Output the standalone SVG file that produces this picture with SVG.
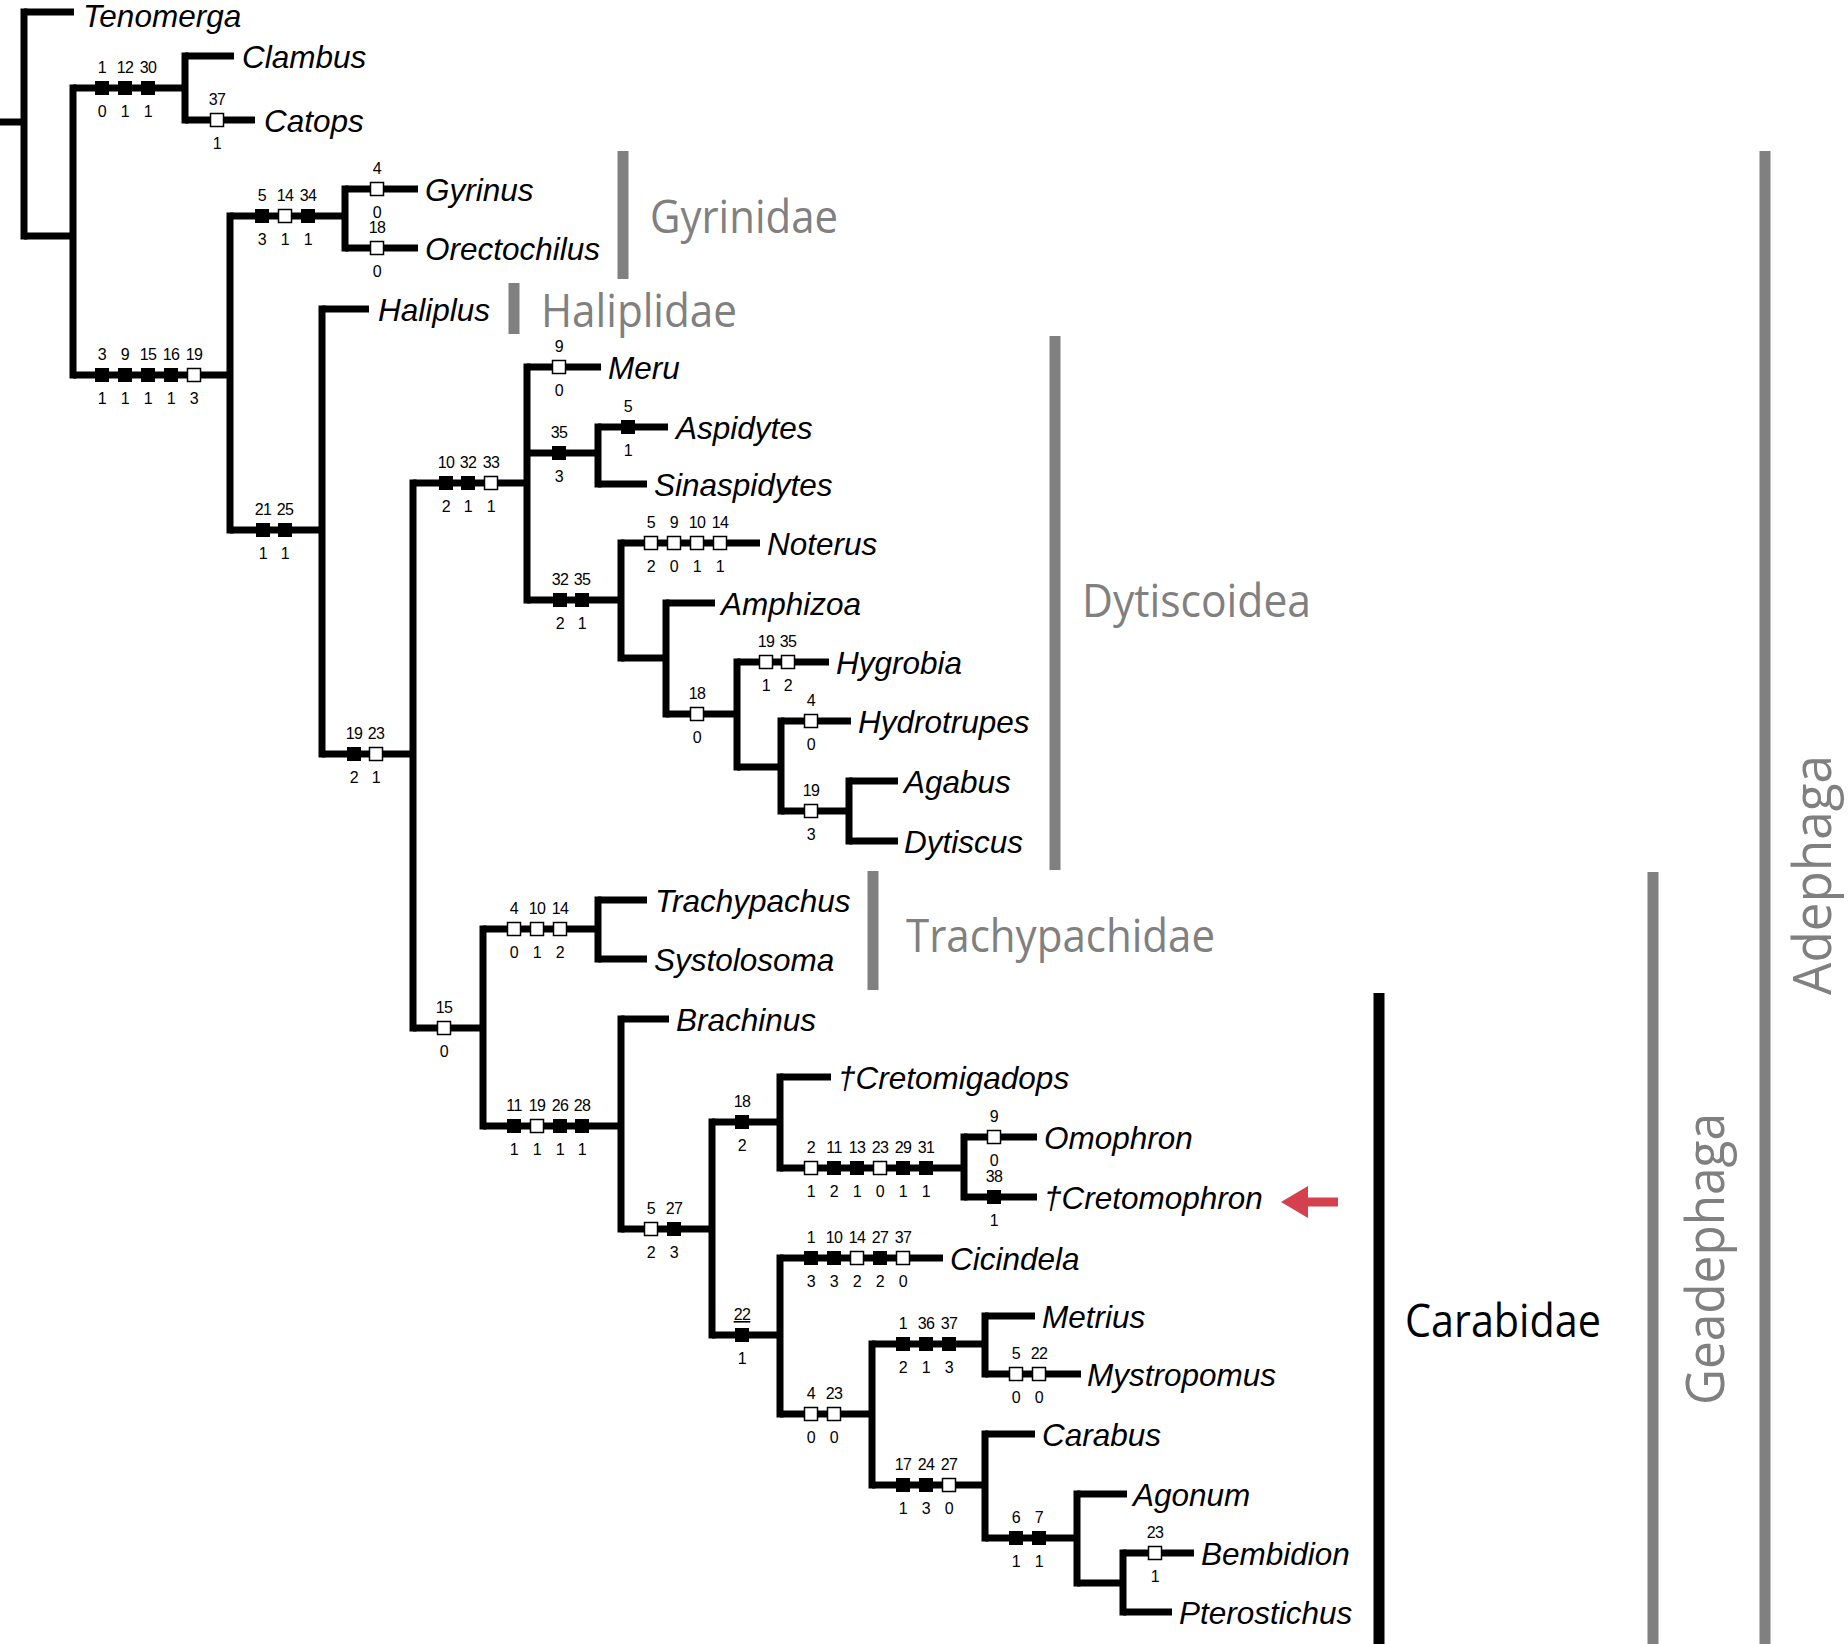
<svg xmlns="http://www.w3.org/2000/svg" width="1848" height="1644" viewBox="0 0 1848 1644">
<style>
.h{stroke:#000;stroke-width:7;fill:none;stroke-linecap:butt}
.v{stroke:#000;stroke-width:7;fill:none;stroke-linecap:square}
.tx{font-family:"Liberation Sans",Arial,sans-serif;font-style:italic;font-size:31.5px;fill:#000}
.cl{font-family:"Liberation Sans",Arial,sans-serif;font-size:16px;text-anchor:middle;letter-spacing:-0.6px;fill:#000}
.gl{font-family:"Open Sans","Liberation Sans",sans-serif;font-size:46px;fill:#808080}
.gv{font-family:"Open Sans","Liberation Sans",sans-serif;font-size:53px;fill:#808080;text-anchor:middle}
.bar{fill:#808080}
</style>
<defs>
<rect id="bf" x="-7" y="-7" width="14" height="14" fill="#000"/>
<rect id="bo" x="-6.5" y="-6.5" width="13" height="13" fill="#fff" stroke="#000" stroke-width="1.5"/>
</defs>
<rect width="1848" height="1644" fill="#fff"/>
<g id="connectors">
<path class="h" d="M0 122H24M24 12H74M24 236H73M73 88H185M185 56H234M185 120H255M73 375H230M230 216H345M345 189H418M345 248H418M230 530H322M322 309H369M322 754H413M413 483H527M527 367H601M527 453H598M598 427H668M598 484H647M527 600H621M621 543H760M621 658H666M666 603H715M666 714H737M737 662H829M737 767H781M781 721H851M781 811H849M849 781H898M849 841H898M413 1028H483M483 929H598M598 900H647M598 959H647M483 1126H621M621 1019H669M621 1229H712M712 1122H780M780 1077H831M780 1168H964M964 1137H1037M964 1197H1037M712 1335H780M780 1258H943M780 1414H872M872 1344H985M985 1316H1035M985 1374H1081M872 1485H985M985 1434H1035M985 1538H1077M1077 1494H1127M1077 1583H1123M1123 1553H1194M1123 1612H1172"/>
<path class="v" d="M24 12V236M73 88V375M185 56V120M230 216V530M345 189V248M322 309V754M413 483V1028M527 367V600M598 427V484M621 543V658M666 603V714M737 662V767M781 721V811M849 781V841M483 929V1126M598 900V959M621 1019V1229M712 1122V1335M780 1077V1168M964 1137V1197M780 1258V1414M872 1344V1485M985 1316V1374M985 1434V1538M1077 1494V1583M1123 1553V1612"/>
</g>
<g id="characters">
<g id="ch1"><use href="#bf" x="102" y="88"/><use href="#bf" x="125" y="88"/><use href="#bf" x="148" y="88"/>
<text class="cl" x="102" y="73">1</text><text class="cl" x="125" y="73">12</text><text class="cl" x="148" y="73">30</text>
<text class="cl" x="102" y="117">0</text><text class="cl" x="125" y="117">1</text><text class="cl" x="148" y="117">1</text></g>
<g id="ch2"><use href="#bo" x="217" y="120"/><text class="cl" x="217" y="105">37</text><text class="cl" x="217" y="149">1</text></g>
<g id="ch3"><use href="#bf" x="102" y="375"/><use href="#bf" x="125" y="375"/><use href="#bf" x="148" y="375"/><use href="#bf" x="171" y="375"/><use href="#bo" x="194" y="375"/>
<text class="cl" x="102" y="360">3</text><text class="cl" x="125" y="360">9</text><text class="cl" x="148" y="360">15</text><text class="cl" x="171" y="360">16</text><text class="cl" x="194" y="360">19</text>
<text class="cl" x="102" y="404">1</text><text class="cl" x="125" y="404">1</text><text class="cl" x="148" y="404">1</text><text class="cl" x="171" y="404">1</text><text class="cl" x="194" y="404">3</text></g>
<g id="ch4"><use href="#bf" x="262" y="216"/><use href="#bo" x="285" y="216"/><use href="#bf" x="308" y="216"/>
<text class="cl" x="262" y="201">5</text><text class="cl" x="285" y="201">14</text><text class="cl" x="308" y="201">34</text>
<text class="cl" x="262" y="245">3</text><text class="cl" x="285" y="245">1</text><text class="cl" x="308" y="245">1</text></g>
<g id="ch5"><use href="#bo" x="377" y="189"/><text class="cl" x="377" y="174">4</text><text class="cl" x="377" y="218">0</text></g>
<g id="ch6"><use href="#bo" x="377" y="248"/><text class="cl" x="377" y="233">18</text><text class="cl" x="377" y="277">0</text></g>
<g id="ch7"><use href="#bf" x="263" y="530"/><use href="#bf" x="285" y="530"/>
<text class="cl" x="263" y="515">21</text><text class="cl" x="285" y="515">25</text><text class="cl" x="263" y="559">1</text><text class="cl" x="285" y="559">1</text></g>
<g id="ch8"><use href="#bf" x="354" y="754"/><use href="#bo" x="376" y="754"/>
<text class="cl" x="354" y="739">19</text><text class="cl" x="376" y="739">23</text><text class="cl" x="354" y="783">2</text><text class="cl" x="376" y="783">1</text></g>
<g id="ch9"><use href="#bf" x="446" y="483"/><use href="#bf" x="468" y="483"/><use href="#bo" x="491" y="483"/>
<text class="cl" x="446" y="468">10</text><text class="cl" x="468" y="468">32</text><text class="cl" x="491" y="468">33</text>
<text class="cl" x="446" y="512">2</text><text class="cl" x="468" y="512">1</text><text class="cl" x="491" y="512">1</text></g>
<g id="ch10"><use href="#bo" x="559" y="367"/><text class="cl" x="559" y="352">9</text><text class="cl" x="559" y="396">0</text></g>
<g id="ch11"><use href="#bf" x="559" y="453"/><text class="cl" x="559" y="438">35</text><text class="cl" x="559" y="482">3</text></g>
<g id="ch12"><use href="#bf" x="628" y="427"/><text class="cl" x="628" y="412">5</text><text class="cl" x="628" y="456">1</text></g>
<g id="ch13"><use href="#bf" x="560" y="600"/><use href="#bf" x="582" y="600"/>
<text class="cl" x="560" y="585">32</text><text class="cl" x="582" y="585">35</text><text class="cl" x="560" y="629">2</text><text class="cl" x="582" y="629">1</text></g>
<g id="ch14"><use href="#bo" x="651" y="543"/><use href="#bo" x="674" y="543"/><use href="#bo" x="697" y="543"/><use href="#bo" x="720" y="543"/>
<text class="cl" x="651" y="528">5</text><text class="cl" x="674" y="528">9</text><text class="cl" x="697" y="528">10</text><text class="cl" x="720" y="528">14</text>
<text class="cl" x="651" y="572">2</text><text class="cl" x="674" y="572">0</text><text class="cl" x="697" y="572">1</text><text class="cl" x="720" y="572">1</text></g>
<g id="ch15"><use href="#bo" x="697" y="714"/><text class="cl" x="697" y="699">18</text><text class="cl" x="697" y="743">0</text></g>
<g id="ch16"><use href="#bo" x="766" y="662"/><use href="#bo" x="788" y="662"/>
<text class="cl" x="766" y="647">19</text><text class="cl" x="788" y="647">35</text><text class="cl" x="766" y="691">1</text><text class="cl" x="788" y="691">2</text></g>
<g id="ch17"><use href="#bo" x="811" y="721"/><text class="cl" x="811" y="706">4</text><text class="cl" x="811" y="750">0</text></g>
<g id="ch18"><use href="#bo" x="811" y="811"/><text class="cl" x="811" y="796">19</text><text class="cl" x="811" y="840">3</text></g>
<g id="ch19"><use href="#bo" x="444" y="1028"/><text class="cl" x="444" y="1013">15</text><text class="cl" x="444" y="1057">0</text></g>
<g id="ch20"><use href="#bo" x="514" y="929"/><use href="#bo" x="537" y="929"/><use href="#bo" x="560" y="929"/>
<text class="cl" x="514" y="914">4</text><text class="cl" x="537" y="914">10</text><text class="cl" x="560" y="914">14</text>
<text class="cl" x="514" y="958">0</text><text class="cl" x="537" y="958">1</text><text class="cl" x="560" y="958">2</text></g>
<g id="ch21"><use href="#bf" x="514" y="1126"/><use href="#bo" x="537" y="1126"/><use href="#bf" x="560" y="1126"/><use href="#bf" x="582" y="1126"/>
<text class="cl" x="514" y="1111">11</text><text class="cl" x="537" y="1111">19</text><text class="cl" x="560" y="1111">26</text><text class="cl" x="582" y="1111">28</text>
<text class="cl" x="514" y="1155">1</text><text class="cl" x="537" y="1155">1</text><text class="cl" x="560" y="1155">1</text><text class="cl" x="582" y="1155">1</text></g>
<g id="ch22"><use href="#bo" x="651" y="1229"/><use href="#bf" x="674" y="1229"/>
<text class="cl" x="651" y="1214">5</text><text class="cl" x="674" y="1214">27</text><text class="cl" x="651" y="1258">2</text><text class="cl" x="674" y="1258">3</text></g>
<g id="ch23"><use href="#bf" x="742" y="1122"/><text class="cl" x="742" y="1107">18</text><text class="cl" x="742" y="1151">2</text></g>
<g id="ch24"><use href="#bo" x="811" y="1168"/><use href="#bf" x="834" y="1168"/><use href="#bf" x="857" y="1168"/><use href="#bo" x="880" y="1168"/><use href="#bf" x="903" y="1168"/><use href="#bf" x="926" y="1168"/>
<text class="cl" x="811" y="1153">2</text><text class="cl" x="834" y="1153">11</text><text class="cl" x="857" y="1153">13</text><text class="cl" x="880" y="1153">23</text><text class="cl" x="903" y="1153">29</text><text class="cl" x="926" y="1153">31</text>
<text class="cl" x="811" y="1197">1</text><text class="cl" x="834" y="1197">2</text><text class="cl" x="857" y="1197">1</text><text class="cl" x="880" y="1197">0</text><text class="cl" x="903" y="1197">1</text><text class="cl" x="926" y="1197">1</text></g>
<g id="ch25"><use href="#bo" x="994" y="1137"/><text class="cl" x="994" y="1122">9</text><text class="cl" x="994" y="1166">0</text></g>
<g id="ch26"><use href="#bf" x="994" y="1197"/><text class="cl" x="994" y="1182">38</text><text class="cl" x="994" y="1226">1</text></g>
<g id="ch27"><use href="#bf" x="742" y="1335"/><text class="cl" x="742" y="1320" text-decoration="underline">22</text><text class="cl" x="742" y="1364">1</text></g>
<g id="ch28"><use href="#bf" x="811" y="1258"/><use href="#bf" x="834" y="1258"/><use href="#bo" x="857" y="1258"/><use href="#bf" x="880" y="1258"/><use href="#bo" x="903" y="1258"/>
<text class="cl" x="811" y="1243">1</text><text class="cl" x="834" y="1243">10</text><text class="cl" x="857" y="1243">14</text><text class="cl" x="880" y="1243">27</text><text class="cl" x="903" y="1243">37</text>
<text class="cl" x="811" y="1287">3</text><text class="cl" x="834" y="1287">3</text><text class="cl" x="857" y="1287">2</text><text class="cl" x="880" y="1287">2</text><text class="cl" x="903" y="1287">0</text></g>
<g id="ch29"><use href="#bo" x="811" y="1414"/><use href="#bo" x="834" y="1414"/>
<text class="cl" x="811" y="1399">4</text><text class="cl" x="834" y="1399">23</text><text class="cl" x="811" y="1443">0</text><text class="cl" x="834" y="1443">0</text></g>
<g id="ch30"><use href="#bf" x="903" y="1344"/><use href="#bf" x="926" y="1344"/><use href="#bf" x="949" y="1344"/>
<text class="cl" x="903" y="1329">1</text><text class="cl" x="926" y="1329">36</text><text class="cl" x="949" y="1329">37</text>
<text class="cl" x="903" y="1373">2</text><text class="cl" x="926" y="1373">1</text><text class="cl" x="949" y="1373">3</text></g>
<g id="ch31"><use href="#bo" x="1016" y="1374"/><use href="#bo" x="1039" y="1374"/>
<text class="cl" x="1016" y="1359">5</text><text class="cl" x="1039" y="1359">22</text><text class="cl" x="1016" y="1403">0</text><text class="cl" x="1039" y="1403">0</text></g>
<g id="ch32"><use href="#bf" x="903" y="1485"/><use href="#bf" x="926" y="1485"/><use href="#bo" x="949" y="1485"/>
<text class="cl" x="903" y="1470">17</text><text class="cl" x="926" y="1470">24</text><text class="cl" x="949" y="1470">27</text>
<text class="cl" x="903" y="1514">1</text><text class="cl" x="926" y="1514">3</text><text class="cl" x="949" y="1514">0</text></g>
<g id="ch33"><use href="#bf" x="1016" y="1538"/><use href="#bf" x="1039" y="1538"/>
<text class="cl" x="1016" y="1523">6</text><text class="cl" x="1039" y="1523">7</text><text class="cl" x="1016" y="1567">1</text><text class="cl" x="1039" y="1567">1</text></g>
<g id="ch34"><use href="#bo" x="1155" y="1553"/><text class="cl" x="1155" y="1538">23</text><text class="cl" x="1155" y="1582">1</text></g>
</g>
<g id="taxa">
<g id="t-Tenomerga"><text class="tx" x="83" y="27">Tenomerga</text></g>
<g id="t-Clambus"><text class="tx" x="242" y="68">Clambus</text></g>
<g id="t-Catops"><text class="tx" x="264" y="132">Catops</text></g>
<g id="t-Gyrinus"><text class="tx" x="425" y="201">Gyrinus</text></g>
<g id="t-Orectochilus"><text class="tx" x="425" y="260">Orectochilus</text></g>
<g id="t-Haliplus"><text class="tx" x="378" y="321">Haliplus</text></g>
<g id="t-Meru"><text class="tx" x="608" y="379">Meru</text></g>
<g id="t-Aspidytes"><text class="tx" x="676" y="439">Aspidytes</text></g>
<g id="t-Sinaspidytes"><text class="tx" x="654" y="496">Sinaspidytes</text></g>
<g id="t-Noterus"><text class="tx" x="767" y="555">Noterus</text></g>
<g id="t-Amphizoa"><text class="tx" x="721" y="615">Amphizoa</text></g>
<g id="t-Hygrobia"><text class="tx" x="836" y="674">Hygrobia</text></g>
<g id="t-Hydrotrupes"><text class="tx" x="858" y="733">Hydrotrupes</text></g>
<g id="t-Agabus"><text class="tx" x="904" y="793">Agabus</text></g>
<g id="t-Dytiscus"><text class="tx" x="904" y="853">Dytiscus</text></g>
<g id="t-Trachypachus"><text class="tx" x="655" y="912">Trachypachus</text></g>
<g id="t-Systolosoma"><text class="tx" x="654" y="971">Systolosoma</text></g>
<g id="t-Brachinus"><text class="tx" x="676" y="1031">Brachinus</text></g>
<g id="t-Cretomigadops"><text class="tx" x="838" y="1089">†Cretomigadops</text></g>
<g id="t-Omophron"><text class="tx" x="1044" y="1149">Omophron</text></g>
<g id="t-Cretomophron"><text class="tx" x="1044" y="1209">†Cretomophron</text></g>
<g id="t-Cicindela"><text class="tx" x="950" y="1270">Cicindela</text></g>
<g id="t-Metrius"><text class="tx" x="1042" y="1328">Metrius</text></g>
<g id="t-Mystropomus"><text class="tx" x="1087" y="1386">Mystropomus</text></g>
<g id="t-Carabus"><text class="tx" x="1042" y="1446">Carabus</text></g>
<g id="t-Agonum"><text class="tx" x="1133" y="1506">Agonum</text></g>
<g id="t-Bembidion"><text class="tx" x="1201" y="1565">Bembidion</text></g>
<g id="t-Pterostichus"><text class="tx" x="1179" y="1624">Pterostichus</text></g>
</g>
<g id="clades">
<g id="c-Gyrinidae"><rect class="bar" x="617.5" y="151" width="11" height="128"/><text class="gl" x="650" y="233" textLength="188" lengthAdjust="spacingAndGlyphs">Gyrinidae</text></g>
<g id="c-Haliplidae"><rect class="bar" x="508.5" y="283" width="11" height="51"/><text class="gl" x="541" y="327" textLength="196" lengthAdjust="spacingAndGlyphs">Haliplidae</text></g>
<g id="c-Dytiscoidea"><rect class="bar" x="1049.5" y="336" width="11" height="534"/><text class="gl" x="1082" y="617" textLength="229" lengthAdjust="spacingAndGlyphs">Dytiscoidea</text></g>
<g id="c-Trachypachidae"><rect class="bar" x="867.5" y="871" width="11" height="119"/><text class="gl" x="906" y="952" textLength="309" lengthAdjust="spacingAndGlyphs">Trachypachidae</text></g>
<g id="c-Carabidae"><rect x="1373.5" y="993" width="11" height="651" fill="#000"/><text class="gl" x="1405" y="1337" style="fill:#000" textLength="196" lengthAdjust="spacingAndGlyphs">Carabidae</text></g>
<g id="c-Geadephaga"><rect class="bar" x="1647.5" y="872" width="11" height="772"/><text class="gv" transform="translate(1724 1259) rotate(-90)" x="0" y="0" textLength="292" lengthAdjust="spacingAndGlyphs">Geadephaga</text></g>
<g id="c-Adephaga"><rect class="bar" x="1759.5" y="151" width="11" height="1493"/><text class="gv" transform="translate(1831 875) rotate(-90)" x="0" y="0" textLength="240" lengthAdjust="spacingAndGlyphs">Adephaga</text></g>
</g>
<g id="arrow-Cretomophron">
<polygon points="1281,1202 1308,1186 1308,1197.5 1338,1197.5 1338,1206.5 1308,1206.5 1308,1218" fill="#d5404f"/>
</g>
</svg>
